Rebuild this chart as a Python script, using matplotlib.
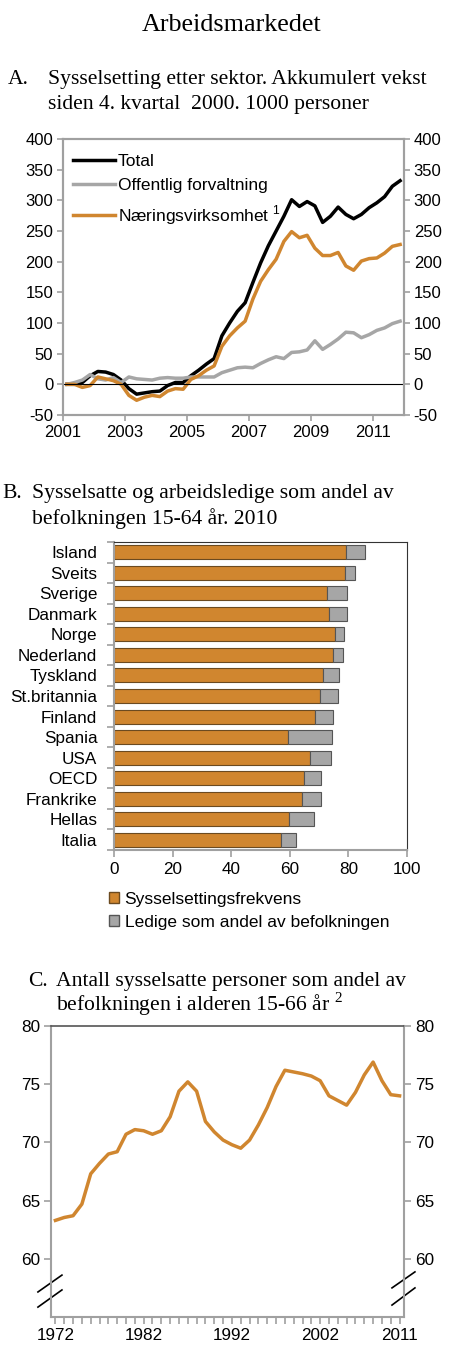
import numpy as np
import matplotlib
matplotlib.use('Agg')
import matplotlib.pyplot as plt
from matplotlib.patches import Patch
from matplotlib.ticker import MultipleLocator, FixedLocator

plt.rcParams['font.family'] = ['Liberation Sans', 'DejaVu Sans']
plt.rcParams['mathtext.fontset'] = 'custom'
plt.rcParams['mathtext.rm'] = 'Liberation Sans'
plt.rcParams['axes.unicode_minus'] = False

# Panel A: cumulative growth since 2000Q4, 1000 persons, quarterly 2001Q1-2011Q4
quarters = 2001.125 + 0.25 * np.arange(44)
total = [0, 0, 3, 14, 21, 20, 16, 7, -7, -16, -14, -12, -11, -2, 3, 3,
         14, 23, 33, 42, 79, 100, 119, 133, 166, 198, 226, 250, 274, 301, 290, 298,
         291, 264, 274, 289, 277, 270, 277, 288, 296, 306, 323, 332]
offentlig = [0, 3, 7, 16, 9, 7, 11, 3, 12, 9, 8, 7, 10, 11, 10, 10,
             12, 12, 12, 12, 19, 23, 27, 28, 27, 34, 40, 45, 42, 52, 53, 56,
             71, 57, 65, 74, 85, 84, 76, 81, 88, 92, 99, 103]
naering = [0, 0, -5, -2, 12, 9, 6, 0, -18, -26, -21, -18, -20, -11, -7, -8,
           8, 14, 23, 30, 62, 79, 92, 103, 139, 168, 187, 204, 233, 249, 239, 243,
           222, 210, 210, 215, 193, 186, 201, 205, 206, 214, 225, 228]

# Panel B: share of population 15-64, 2010
countries = ['Island', 'Sveits', 'Sverige', 'Danmark', 'Norge', 'Nederland', 'Tyskland',
             'St.britannia', 'Finland', 'Spania', 'USA', 'OECD', 'Frankrike', 'Hellas', 'Italia']
employed = [79.1, 78.7, 72.8, 73.5, 75.4, 74.7, 71.3, 70.4, 68.5, 59.4, 66.8, 64.8, 64.0, 59.6, 57.0]
unemployed = [6.5, 3.6, 6.7, 6.0, 3.0, 3.5, 5.5, 6.0, 6.2, 15.0, 7.3, 6.0, 6.8, 8.7, 5.2]

# Panel C: employed persons as share of population 15-66
years = np.arange(1972, 2012)
share = [63.3, 63.55, 63.7, 64.7, 67.3, 68.2, 69.0, 69.2, 70.7, 71.1,
         71.0, 70.7, 71.0, 72.2, 74.4, 75.2, 74.4, 71.8, 70.9, 70.2,
         69.8, 69.5, 70.2, 71.5, 73.0, 74.8, 76.2, 76.05, 75.9, 75.7,
         75.3, 74.0, 73.6, 73.2, 74.3, 75.8, 76.9, 75.3, 74.1, 74.0]

ORANGE = '#D0862F'
GRAY = '#A6A6A6'
SPINE = '#A0A0A0'
W, H = 450, 1362


def box(x0, y0, x1, y1):
    return [x0 / W, 1 - y1 / H, (x1 - x0) / W, (y1 - y0) / H]


def serif_text(x, y, s, size=15.6, **kw):
    fig.text(x / W, 1 - y / H, s, fontsize=size, family='Liberation Serif',
             va='baseline', **kw)


fig = plt.figure(figsize=(W / 100, H / 100), dpi=100)

serif_text(232, 31, 'Arbeidsmarkedet', size=18.8, ha='center')

# ---------- Panel A ----------
serif_text(8, 84, 'A.')
serif_text(48, 84, 'Sysselsetting etter sektor. Akkumulert vekst')
serif_text(48, 109, 'siden 4. kvartal  2000. 1000 personer')

ax = fig.add_axes(box(63, 139, 404, 415))
ax.plot(quarters, total, color='black', lw=2.5, label='Total')
ax.plot(quarters, offentlig, color=GRAY, lw=2.5, label='Offentlig forvaltning')
ax.plot(quarters, naering, color=ORANGE, lw=2.5,
        label=r'Næringsvirksomhet $^{\mathregular{1}}$')
ax.axhline(0, color='black', lw=0.8)
ax.set_xlim(2001, 2012)
ax.set_ylim(-50, 400)
ax.set_yticks(range(-50, 401, 50))
ax.set_xticks(range(2001, 2012, 2))
ax.tick_params(labelsize=12, color=SPINE, length=4, width=1.2, pad=3)
for s in ax.spines.values():
    s.set_color(SPINE)
    s.set_linewidth(1.5)
ax2 = ax.twinx()
ax2.set_ylim(-50, 400)
ax2.set_yticks(range(-50, 401, 50))
ax2.tick_params(labelsize=12, color=SPINE, length=4, width=1.2, pad=3)
for s in ax2.spines.values():
    s.set_color(SPINE)
    s.set_linewidth(1.5)
ax.legend(loc='upper left', frameon=False, fontsize=12.5, handlelength=2.4,
          handletextpad=0.15, labelspacing=0.55, borderaxespad=0.2,
          bbox_to_anchor=(0.0, 0.985))

# ---------- Panel B ----------
serif_text(2, 498, 'B.')
serif_text(32, 498, 'Sysselsatte og arbeidsledige som andel av')
serif_text(32, 524, 'befolkningen 15-64 år. 2010')

bx = fig.add_axes(box(114, 542, 407, 850))
pos = np.arange(len(countries))
bx.barh(pos, employed, height=0.68, color=ORANGE, edgecolor='#6B4A20', lw=0.8)
bx.barh(pos, unemployed, left=employed, height=0.68, color=GRAY,
        edgecolor='#555555', lw=0.8)
bx.set_ylim(len(countries) - 0.5, -0.5)
bx.set_xlim(0, 100)
bx.set_xticks(range(0, 101, 20))
bx.set_yticks(pos)
bx.set_yticklabels(countries)
bx.yaxis.set_minor_locator(FixedLocator(np.arange(-0.5, len(countries), 1)))
bx.tick_params(axis='y', which='major', length=0, labelsize=12.3, pad=12)
bx.tick_params(axis='y', which='minor', length=5, color=SPINE, width=1.2)
bx.tick_params(axis='x', labelsize=12.3, color=SPINE, length=5, width=1.2, pad=4)
bx.spines['left'].set_color(SPINE)
bx.spines['bottom'].set_color(SPINE)
bx.spines['left'].set_linewidth(1.5)
bx.spines['bottom'].set_linewidth(1.5)
bx.spines['top'].set_color('#333333')
bx.spines['right'].set_color('#333333')

handles = [Patch(facecolor=ORANGE, edgecolor='#6B4A20', label='Sysselsettingsfrekvens'),
           Patch(facecolor=GRAY, edgecolor='#555555', label='Ledige som andel av befolkningen')]
fig.legend(handles=handles, loc='upper left', bbox_to_anchor=(102 / W, 1 - 885 / H),
           frameon=False, fontsize=12.5, handlelength=0.6, handleheight=0.6,
           handletextpad=0.3, labelspacing=0.45, borderaxespad=0)

# ---------- Panel C ----------
serif_text(28, 986, 'C.')
serif_text(56, 986, 'Antall sysselsatte personer som andel av')
fig.text(56 / W, 1 - 1011 / H, r'befolkningen i alderen 15-66 år $^{\mathregular{2}}$',
         fontsize=15.6, family='Liberation Serif', va='baseline')

cx = fig.add_axes(box(51, 1026, 404, 1317))
cx.plot(years, share, color=ORANGE, lw=2.5)
cx.set_xlim(1971.5, 2011.5)
cx.set_ylim(55, 80)
cx.set_yticks(range(60, 81, 5))
cx.set_xticks([1972, 1982, 1992, 2002, 2011])
cx.xaxis.set_minor_locator(MultipleLocator(1))
cx.tick_params(labelsize=12.3, color=SPINE, length=5, width=1.2, pad=3)
cx.tick_params(which='minor', color=SPINE, length=5, width=1.2)
for s in cx.spines.values():
    s.set_color(SPINE)
    s.set_linewidth(1.5)
cx.spines['top'].set_color('#555555')
cx.spines['top'].set_linewidth(1.2)
cx2 = cx.twinx()
cx2.set_ylim(55, 80)
cx2.set_yticks(range(60, 81, 5))
cx2.tick_params(labelsize=12.3, color=SPINE, length=5, width=1.2, pad=3)
for s in cx2.spines.values():
    s.set_visible(False)

# axis break marks
for xs, ys in [((-0.037, 0.031), (0.086, 0.144)), ((-0.037, 0.031), (0.034, 0.093)),
               ((0.966, 1.031), (0.100, 0.155)), ((0.966, 1.031), (0.041, 0.100))]:
    cx.plot(xs, ys, transform=cx.transAxes, color='black', lw=1.2, clip_on=False)

fig.savefig('out.png', dpi=100)
